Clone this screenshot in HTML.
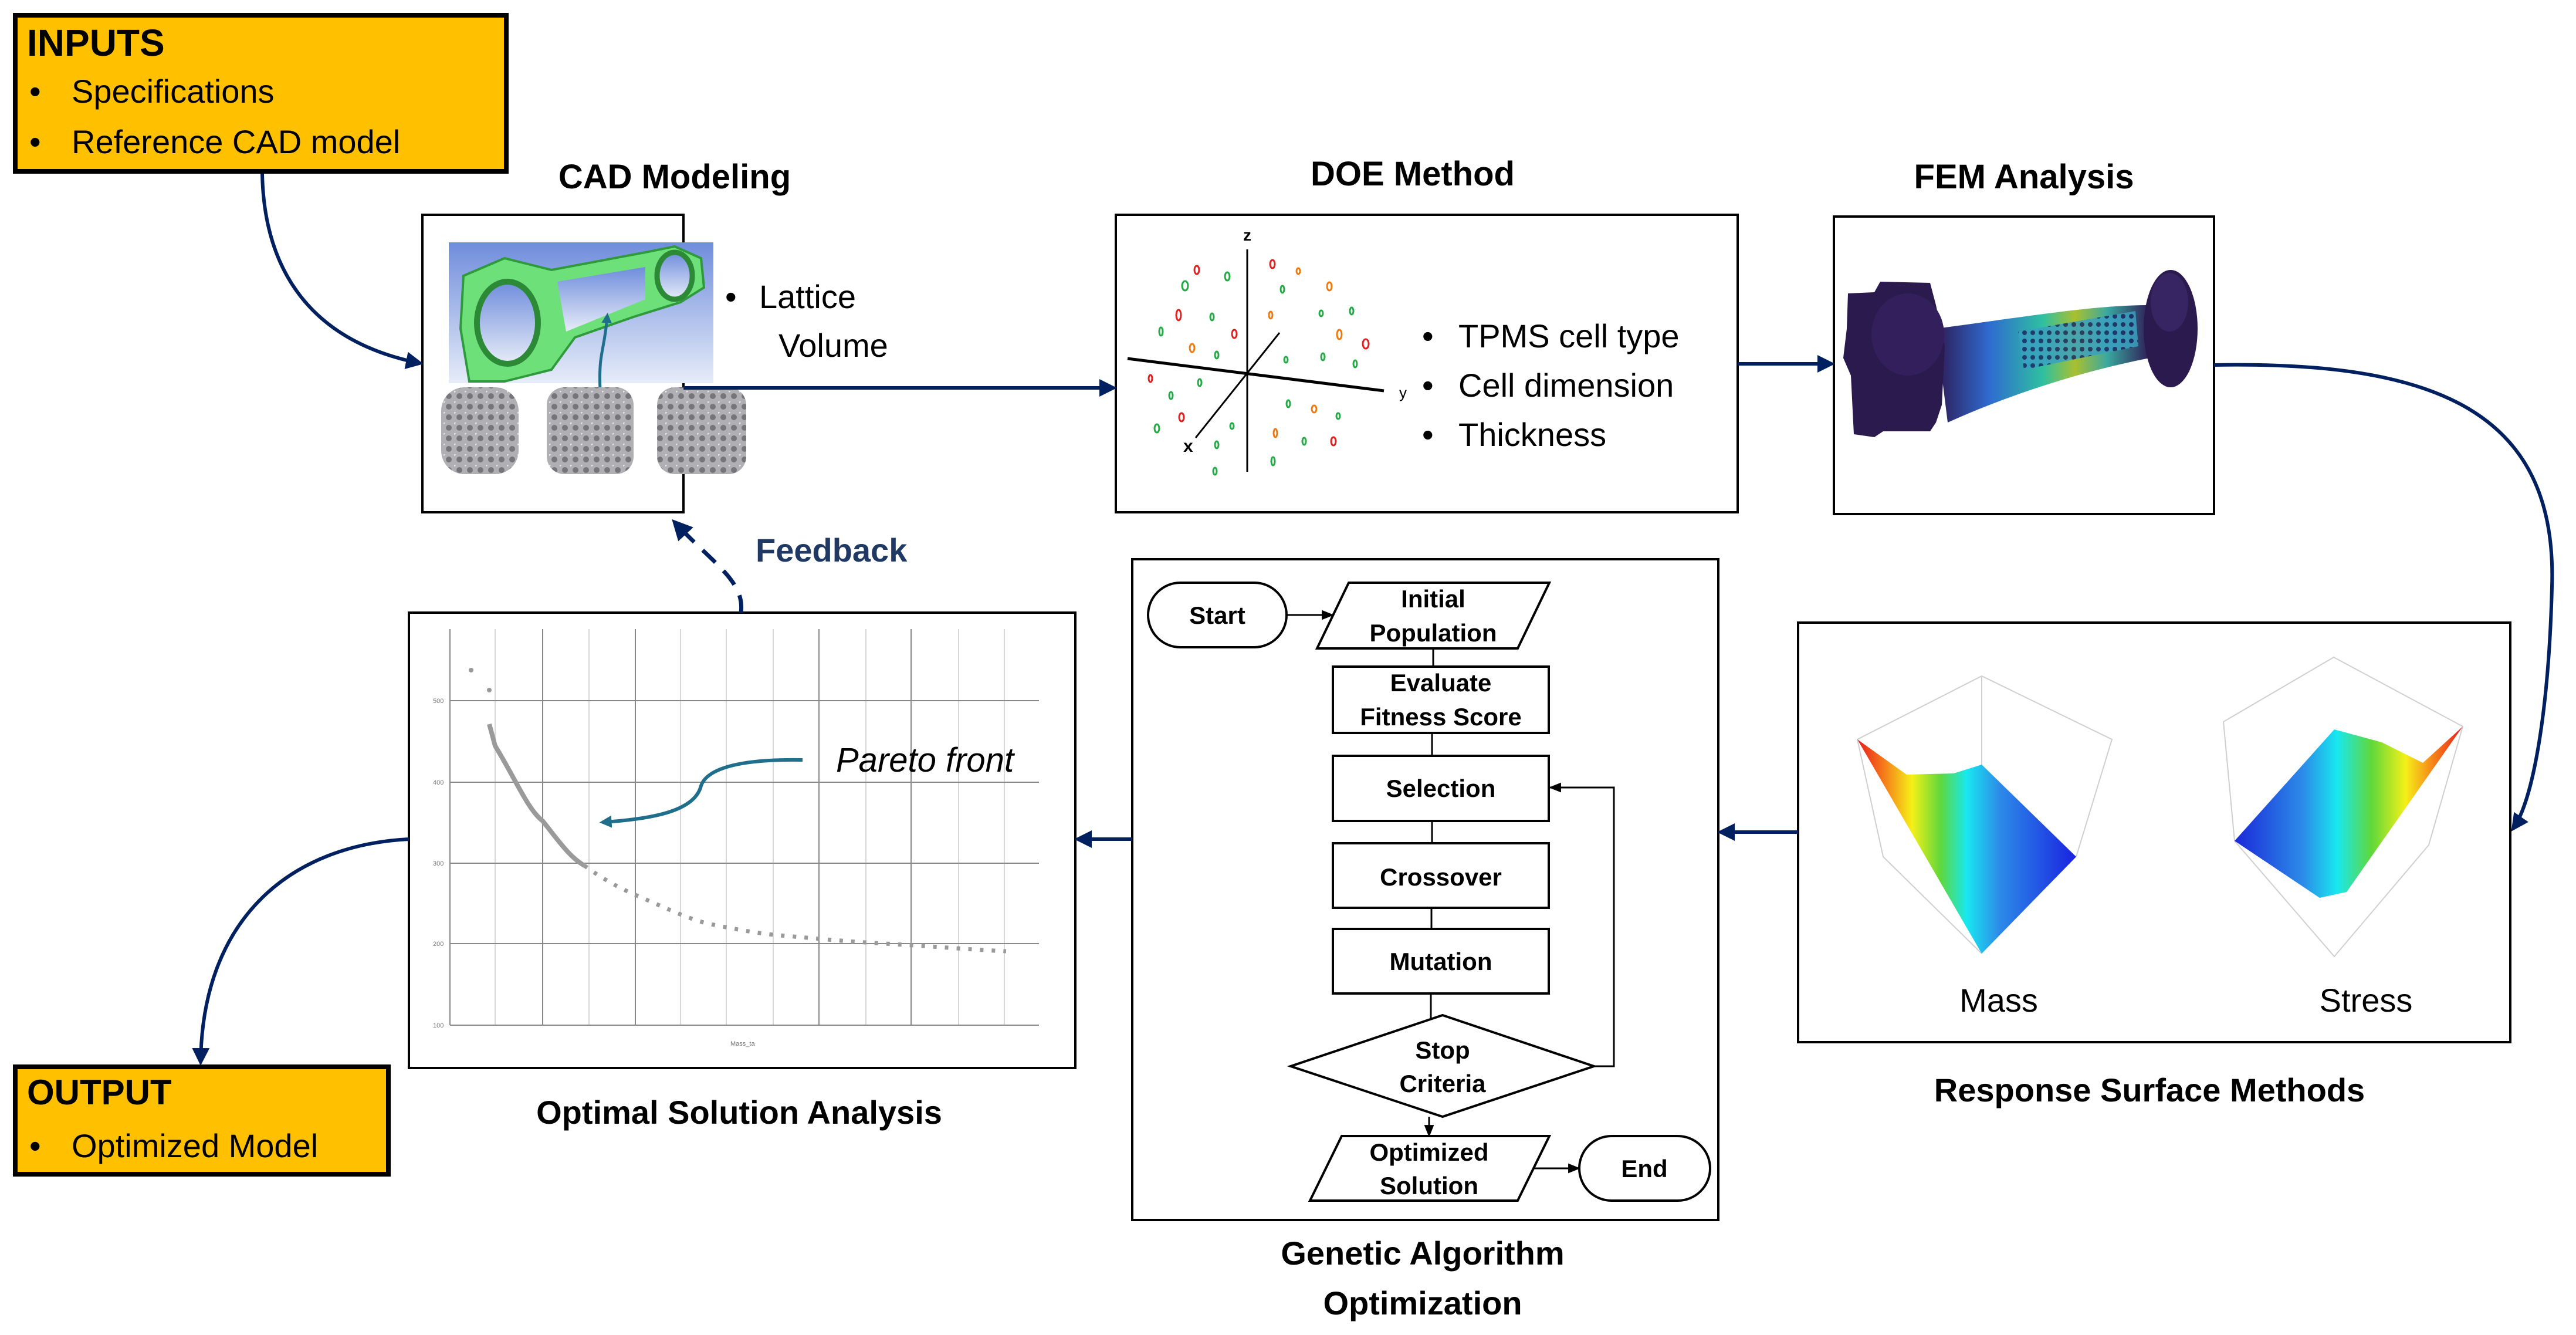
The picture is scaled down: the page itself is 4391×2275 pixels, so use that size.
<!DOCTYPE html>
<html><head><meta charset="utf-8"><style>
html,body{margin:0;padding:0;background:#fff}
svg{display:block}
text{font-family:"Liberation Sans",sans-serif}
</style></head><body>
<svg width="4391" height="2275" viewBox="0 0 4391 2275" xmlns="http://www.w3.org/2000/svg">
<defs>
<marker id="ah" viewBox="0 0 10 10" refX="8" refY="5" markerWidth="5" markerHeight="5" orient="auto"><path d="M0,0 L10,5 L0,10 z" fill="#002060"/></marker>
<marker id="ahs" viewBox="0 0 10 10" refX="9" refY="5" markerWidth="7" markerHeight="7" orient="auto"><path d="M0,1 L10,5 L0,9 z" fill="#000"/></marker>
<marker id="aht" viewBox="0 0 10 10" refX="6" refY="5" markerWidth="3.5" markerHeight="3.5" orient="auto"><path d="M0,0 L10,5 L0,10 z" fill="#1f6e8c"/></marker>
<linearGradient id="bg1" x1="0" y1="0" x2="0" y2="1"><stop offset="0" stop-color="#6f8ddc"/><stop offset="1" stop-color="#e6ecf8"/></linearGradient>
<linearGradient id="mass" x1="0" y1="0" x2="1" y2="0"><stop offset="0" stop-color="#e81c1c"/><stop offset="0.12" stop-color="#f57a1a"/><stop offset="0.25" stop-color="#f5f018"/><stop offset="0.38" stop-color="#5fd83a"/><stop offset="0.5" stop-color="#18e8f0"/><stop offset="0.65" stop-color="#2c8be8"/><stop offset="1" stop-color="#1a22e0"/></linearGradient>
<linearGradient id="stress" x1="0" y1="0" x2="1" y2="0"><stop offset="0" stop-color="#1a28d8"/><stop offset="0.3" stop-color="#2c8be8"/><stop offset="0.45" stop-color="#18e8f0"/><stop offset="0.6" stop-color="#5fd83a"/><stop offset="0.75" stop-color="#f5f018"/><stop offset="0.88" stop-color="#f57a1a"/><stop offset="1" stop-color="#e81c1c"/></linearGradient>
<linearGradient id="fem" x1="0" y1="0" x2="1" y2="0"><stop offset="0" stop-color="#2e1b55"/><stop offset="0.25" stop-color="#2f6bd0"/><stop offset="0.5" stop-color="#2fc0a0"/><stop offset="0.65" stop-color="#a8c030"/><stop offset="0.8" stop-color="#3aa8a0"/><stop offset="1" stop-color="#2e1b55"/></linearGradient>
<pattern id="holes" width="14" height="14" patternUnits="userSpaceOnUse"><rect width="14" height="14" fill="#3aa0c0"/><circle cx="7" cy="7" r="4" fill="#1a2a60"/></pattern>
<pattern id="lat" width="18" height="18" patternUnits="userSpaceOnUse"><rect width="18" height="18" fill="#b0b0b4"/><circle cx="9" cy="9" r="5" fill="#75757a"/><circle cx="0" cy="0" r="3" fill="#e4e4e8"/></pattern>
</defs>

<!-- INPUTS -->
<rect x="26" y="26" width="837" height="266" fill="#FFC000" stroke="#000" stroke-width="8"/>
<text x="46" y="95" font-size="64" font-weight="bold">INPUTS</text>
<text x="50" y="175" font-size="56">•</text><text x="122" y="175" font-size="56">Specifications</text>
<text x="50" y="261" font-size="56">•</text><text x="122" y="261" font-size="56">Reference CAD model</text>

<!-- CAD Modeling -->
<text x="1150" y="321" font-size="58" font-weight="bold" text-anchor="middle">CAD Modeling</text>
<rect x="720" y="366" width="445" height="507" fill="#fff" stroke="#000" stroke-width="4"/>
<rect x="765" y="413" width="451" height="240" fill="url(#bg1)"/>
<path d="M790,470 L860,440 L940,460 L1100,430 L1150,420 L1195,440 L1200,490 L1160,515 L1080,540 L980,575 L940,630 L860,650 L800,650 L785,560 Z" fill="#6ee07a" stroke="#2f9a3c" stroke-width="4"/>
<ellipse cx="865" cy="550" rx="52" ry="70" fill="url(#bg1)" stroke="#2c8a36" stroke-width="10"/>
<ellipse cx="1150" cy="470" rx="30" ry="40" fill="url(#bg1)" stroke="#2c8a36" stroke-width="9"/>
<path d="M950,480 L1100,455 L1100,510 L965,565 Z" fill="url(#bg1)"/>
<path d="M1023,665 C1020,600 1030,600 1035,540" stroke="#1f6e8c" stroke-width="5" fill="none" marker-end="url(#aht)"/>
<rect x="752" y="660" width="132" height="148" rx="40" fill="url(#lat)"/>
<rect x="932" y="660" width="148" height="148" rx="30" fill="url(#lat)"/>
<rect x="1120" y="660" width="152" height="148" rx="30" fill="url(#lat)"/>
<text x="1236" y="525" font-size="56">•</text><text x="1294" y="525" font-size="56">Lattice</text>
<text x="1327" y="608" font-size="56">Volume</text>

<!-- DOE -->
<text x="2408" y="316" font-size="58" font-weight="bold" text-anchor="middle">DOE Method</text>
<rect x="1902" y="366" width="1060" height="507" fill="#fff" stroke="#000" stroke-width="4"/>
<line x1="2126" y1="425" x2="2126" y2="804" stroke="#000" stroke-width="3"/>
<line x1="1922" y1="611" x2="2359" y2="666" stroke="#000" stroke-width="5"/>
<line x1="2181" y1="567" x2="2038" y2="746" stroke="#000" stroke-width="3"/>
<text x="2126" y="410" font-size="28" font-weight="bold" text-anchor="middle">z</text>
<text x="2385" y="678" font-size="26">y</text>
<text x="2017" y="770" font-size="30" font-weight="bold">x</text>
<g fill="none" stroke-width="3">
<g stroke="#e02020"><ellipse cx="2040" cy="460" rx="4" ry="7"/><ellipse cx="2169" cy="450" rx="4" ry="7"/><ellipse cx="2009" cy="537" rx="4" ry="9"/><ellipse cx="2104" cy="569" rx="4" ry="7"/><ellipse cx="2328" cy="586" rx="5" ry="8"/><ellipse cx="1961" cy="645" rx="3" ry="6"/><ellipse cx="2014" cy="711" rx="4" ry="7"/><ellipse cx="2273" cy="752" rx="4" ry="7"/></g>
<g stroke="#f07a10"><ellipse cx="2213" cy="462" rx="3" ry="5"/><ellipse cx="2266" cy="488" rx="4" ry="7"/><ellipse cx="2166" cy="537" rx="3" ry="6"/><ellipse cx="2283" cy="570" rx="4" ry="8"/><ellipse cx="2032" cy="593" rx="4" ry="7"/><ellipse cx="2240" cy="697" rx="4" ry="6"/><ellipse cx="2174" cy="738" rx="3" ry="7"/></g>
<g stroke="#22aa44"><ellipse cx="2092" cy="471" rx="4" ry="7"/><ellipse cx="2020" cy="487" rx="5" ry="8"/><ellipse cx="2186" cy="493" rx="3" ry="6"/><ellipse cx="2066" cy="540" rx="3" ry="6"/><ellipse cx="2252" cy="534" rx="3" ry="5"/><ellipse cx="2304" cy="530" rx="3" ry="6"/><ellipse cx="1979" cy="565" rx="3" ry="7"/><ellipse cx="2074" cy="605" rx="3" ry="6"/><ellipse cx="2192" cy="613" rx="3" ry="5"/><ellipse cx="2255" cy="608" rx="3" ry="6"/><ellipse cx="2310" cy="620" rx="3" ry="6"/><ellipse cx="2045" cy="652" rx="3" ry="6"/><ellipse cx="1996" cy="674" rx="3" ry="6"/><ellipse cx="2196" cy="688" rx="3" ry="6"/><ellipse cx="2281" cy="709" rx="3" ry="5"/><ellipse cx="1972" cy="730" rx="4" ry="7"/><ellipse cx="2100" cy="726" rx="3" ry="5"/><ellipse cx="2223" cy="752" rx="3" ry="6"/><ellipse cx="2074" cy="758" rx="3" ry="6"/><ellipse cx="2170" cy="786" rx="3" ry="7"/><ellipse cx="2071" cy="803" rx="3" ry="6"/></g>
</g>
<text x="2424" y="592" font-size="56">•</text><text x="2486" y="592" font-size="56">TPMS cell type</text>
<text x="2424" y="676" font-size="56">•</text><text x="2486" y="676" font-size="56">Cell dimension</text>
<text x="2424" y="760" font-size="56">•</text><text x="2486" y="760" font-size="56">Thickness</text>

<!-- FEM -->
<text x="3450" y="321" font-size="58" font-weight="bold" text-anchor="middle">FEM Analysis</text>
<rect x="3126" y="369" width="648" height="507" fill="#fff" stroke="#000" stroke-width="4"/>
<path d="M3300,560 C3420,545 3560,520 3660,520 L3665,610 C3560,630 3430,670 3320,720 Z" fill="url(#fem)"/>
<path d="M3440,565 L3640,530 L3645,590 L3450,630 Z" fill="url(#holes)" opacity="0.85"/>
<path d="M3150,500 L3195,498 L3205,480 L3290,482 L3300,520 L3315,590 L3310,690 L3300,720 L3290,735 L3210,735 L3195,745 L3160,740 L3155,640 L3142,610 L3148,560 Z" fill="#2b1a4e"/>
<ellipse cx="3252" cy="570" rx="62" ry="70" fill="#331f5c"/>
<ellipse cx="3700" cy="560" rx="46" ry="100" fill="#2b1a4e"/>
<ellipse cx="3698" cy="515" rx="32" ry="50" fill="#362463"/>

<!-- RSM -->
<rect x="3065" y="1061" width="1214" height="715" fill="#fff" stroke="#000" stroke-width="4"/>
<g stroke="#cfcfcf" stroke-width="2" fill="none">
<path d="M3166,1260 L3378,1152 L3600,1260 L3539,1460"/><path d="M3378,1152 L3378,1625"/><path d="M3166,1260 L3210,1460 L3378,1625"/>
<path d="M3809,1433 L3790,1230 L3978,1120 L4198,1238 L4140,1440 L3979,1630 L3809,1433"/>
</g>
<polygon points="3166,1260 3250,1320 3330,1318 3378,1303 3539,1460 3378,1625" fill="url(#mass)"/>
<polygon points="3809,1433 3979,1243 4060,1265 4130,1300 4198,1238 4000,1520 3954,1530" fill="url(#stress)"/>
<text x="3407" y="1724" font-size="56" text-anchor="middle">Mass</text>
<text x="4033" y="1724" font-size="56" text-anchor="middle">Stress</text>
<text x="3664" y="1877" font-size="56" font-weight="bold" text-anchor="middle">Response  Surface Methods</text>

<!-- GA -->
<rect x="1930" y="953" width="999" height="1126" fill="#fff" stroke="#000" stroke-width="4"/>
<g fill="#fff" stroke="#000" stroke-width="4">
<rect x="1957" y="993" width="236" height="110" rx="55"/>
<polygon points="2299,993 2641,993 2587,1105 2245,1105"/>
<rect x="2272" y="1136" width="368" height="113"/>
<rect x="2272" y="1288" width="368" height="111"/>
<rect x="2272" y="1437" width="368" height="110"/>
<rect x="2272" y="1583" width="368" height="110"/>
<polygon points="2459,1730 2717,1817 2459,1903 2200,1817"/>
<polygon points="2287,1936 2641,1936 2587,2046 2233,2046"/>
<rect x="2692" y="1936" width="223" height="110" rx="55"/>
</g>
<g stroke="#000" stroke-width="3" fill="none">
<line x1="2193" y1="1048" x2="2272" y2="1048" marker-end="url(#ahs)"/>
<line x1="2443" y1="1105" x2="2443" y2="1136"/>
<line x1="2441" y1="1249" x2="2441" y2="1288"/>
<line x1="2441" y1="1399" x2="2441" y2="1437"/>
<line x1="2440" y1="1547" x2="2440" y2="1583"/>
<line x1="2439" y1="1693" x2="2439" y2="1737"/>
<path d="M2717,1817 L2751,1817 L2751,1342 L2642,1342" marker-end="url(#ahs)"/>
<line x1="2436" y1="1903" x2="2436" y2="1936" marker-end="url(#ahs)"/>
<line x1="2613" y1="1991" x2="2692" y2="1991" marker-end="url(#ahs)"/>
</g>
<g font-size="42" font-weight="bold" text-anchor="middle">
<text x="2075" y="1063">Start</text>
<text x="2443" y="1035">Initial</text><text x="2443" y="1093">Population</text>
<text x="2456" y="1178">Evaluate</text><text x="2456" y="1236">Fitness Score</text>
<text x="2456" y="1358">Selection</text>
<text x="2456" y="1509">Crossover</text>
<text x="2456" y="1653">Mutation</text>
<text x="2459" y="1804">Stop</text><text x="2459" y="1861">Criteria</text>
<text x="2436" y="1978">Optimized</text><text x="2436" y="2035">Solution</text>
<text x="2803" y="2006">End</text>
</g>
<text x="2425" y="2155" font-size="56" font-weight="bold" text-anchor="middle">Genetic Algorithm</text>
<text x="2425" y="2240" font-size="56" font-weight="bold" text-anchor="middle">Optimization</text>

<!-- Optimal -->
<rect x="697" y="1044" width="1136" height="776" fill="#fff" stroke="#000" stroke-width="4"/>
<g stroke="#d8d8d8" stroke-width="2">
<line x1="844" y1="1072" x2="844" y2="1747"/><line x1="1004" y1="1072" x2="1004" y2="1747"/><line x1="1160" y1="1072" x2="1160" y2="1747"/><line x1="1238" y1="1072" x2="1238" y2="1747"/><line x1="1318" y1="1072" x2="1318" y2="1747"/><line x1="1476" y1="1072" x2="1476" y2="1747"/><line x1="1634" y1="1072" x2="1634" y2="1747"/><line x1="1712" y1="1072" x2="1712" y2="1747"/>
</g>
<g stroke="#888" stroke-width="2">
<line x1="925" y1="1072" x2="925" y2="1747"/><line x1="1083" y1="1072" x2="1083" y2="1747"/><line x1="1396" y1="1072" x2="1396" y2="1747"/><line x1="1553" y1="1072" x2="1553" y2="1747"/>
<line x1="767" y1="1194" x2="1771" y2="1194"/><line x1="767" y1="1333" x2="1771" y2="1333"/><line x1="767" y1="1471" x2="1771" y2="1471"/><line x1="767" y1="1608" x2="1771" y2="1608"/>
<line x1="767" y1="1072" x2="767" y2="1747"/><line x1="767" y1="1747" x2="1771" y2="1747"/>
</g>
<path d="M834,1234 L844,1271 C880,1330 900,1380 925,1399 C950,1430 970,1460 996,1475" stroke="#9a9a9a" stroke-width="8" fill="none"/>
<path d="M996,1475 C1030,1500 1060,1515 1083,1525 C1130,1545 1170,1565 1207,1574 C1260,1585 1300,1592 1342,1595 C1400,1600 1450,1605 1508,1608 C1580,1612 1650,1618 1715,1621" stroke="#9a9a9a" stroke-width="7" fill="none" stroke-dasharray="6 14"/>
<circle cx="803" cy="1142" r="4" fill="#999"/><circle cx="834" cy="1176" r="4" fill="#999"/>
<g font-size="11" fill="#777"><text x="738" y="1198">500</text><text x="738" y="1337">400</text><text x="738" y="1475">300</text><text x="738" y="1612">200</text><text x="738" y="1751">100</text><text x="1245" y="1782">Mass_ta</text></g>
<text x="1425" y="1315" font-size="58" font-style="italic">Pareto front</text>
<path d="M1368,1295 C1260,1293 1205,1310 1195,1339 C1185,1380 1120,1395 1030,1401" stroke="#1f6e8c" stroke-width="6" fill="none" marker-end="url(#aht)"/>
<text x="1260" y="1915" font-size="56" font-weight="bold" text-anchor="middle">Optimal Solution Analysis</text>

<!-- Feedback -->
<path d="M1263,1044 C1270,990 1215,960 1150,890" stroke="#002060" stroke-width="7" fill="none" stroke-dasharray="30 20" marker-end="url(#ah)"/>
<text x="1288" y="957" font-size="56" font-weight="bold" fill="#1F3864">Feedback</text>

<!-- OUTPUT -->
<rect x="26" y="1818" width="636" height="183" fill="#FFC000" stroke="#000" stroke-width="8"/>
<text x="46" y="1882" font-size="60" font-weight="bold">OUTPUT</text>
<text x="50" y="1972" font-size="56">•</text><text x="122" y="1972" font-size="56">Optimized Model</text>

<!-- connectors -->
<g stroke="#002060" stroke-width="6" fill="none" marker-end="url(#ah)">
<path d="M447,296 C450,450 520,580 716,619"/>
<line x1="1165" y1="661" x2="1898" y2="661"/>
<line x1="2962" y1="620" x2="3122" y2="620"/>
<path d="M3774,622 C4150,615 4360,700 4350,1000 C4345,1200 4320,1360 4284,1412"/>
<line x1="3065" y1="1418" x2="2933" y2="1418"/>
<line x1="1930" y1="1430" x2="1837" y2="1430"/>
<path d="M697,1430 C500,1440 345,1560 342,1810"/>
</g>
</svg>
</body></html>
